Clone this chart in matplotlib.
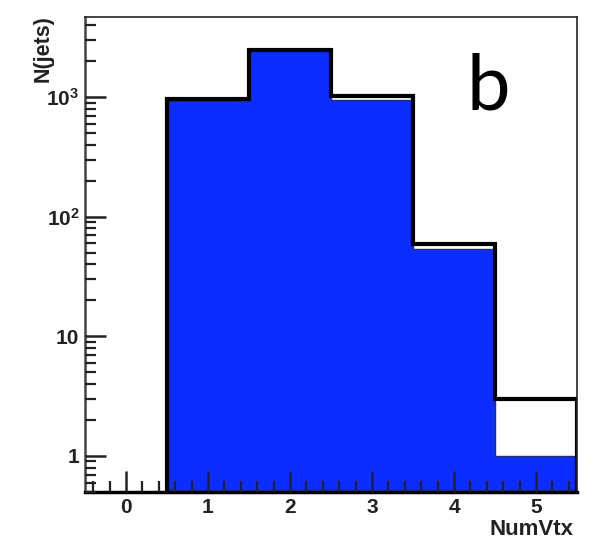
import matplotlib
matplotlib.use("Agg")
import matplotlib.pyplot as plt
import numpy as np
from matplotlib.ticker import FixedLocator, NullFormatter, FixedFormatter

plt.rcParams['font.family'] = ['Liberation Sans', 'DejaVu Sans']
plt.rcParams['mathtext.fontset'] = 'custom'
plt.rcParams['mathtext.rm'] = 'Liberation Sans:bold'
plt.rcParams['mathtext.bf'] = 'Liberation Sans:bold'

bin_edges = [-0.5, 0.5, 1.5, 2.5, 3.5, 4.5, 5.5]
blue_counts = [0, 920, 2430, 950, 54, 1.0]
black_counts = [0, 960, 2450, 1020, 59, 3.0]
x_ticks = [0, 1, 2, 3, 4, 5]
y_ticks = [1, 10, 100, 1000]
y_tick_labels = ['1', '10', r'$\mathbf{10^{2}}$', r'$\mathbf{10^{3}}$']

ymin, ymax = 0.5, 4670

fig = plt.figure(figsize=(6.01, 5.44), dpi=100)
ax = fig.add_axes([0.1414, 0.0956, 0.8186, 0.8732])
ax.set_yscale('log')
ax.set_xlim(-0.5, 5.5)
ax.set_ylim(ymin, ymax)

base = ymin * 0.5
blue_plot = [v if v > 0 else base for v in blue_counts]
black_plot = [v if v > 0 else base for v in black_counts]

ax.stairs(blue_plot, bin_edges, baseline=base, fill=True, color='#0b2dff', zorder=2)
ax.stairs(blue_plot, bin_edges, baseline=base, fill=False, color='#333333', lw=1.0, zorder=3)
ax.stairs(black_plot, bin_edges, baseline=base, fill=False, color='black', lw=3.0, zorder=4)

for s in ['top', 'right']:
    ax.spines[s].set_linewidth(1.2)
    ax.spines[s].set_color('#222222')
ax.spines['left'].set_linewidth(1.8)
ax.spines['left'].set_color('#444444')
ax.spines['bottom'].set_linewidth(2.5)
ax.spines['bottom'].set_color('black')
for s in ax.spines.values():
    s.set_zorder(6)
ax.xaxis.set_zorder(6)
ax.yaxis.set_zorder(6)

ax.xaxis.set_major_locator(FixedLocator(x_ticks))
ax.xaxis.set_minor_locator(FixedLocator(np.arange(-0.4, 5.5, 0.2)))
ax.yaxis.set_major_locator(FixedLocator(y_ticks))
minor_y = [m * 10.0**e for e in range(-1, 4) for m in range(2, 10)]
ax.yaxis.set_minor_locator(FixedLocator([v for v in minor_y if ymin <= v <= ymax]))
ax.yaxis.set_major_formatter(FixedFormatter(y_tick_labels))
ax.yaxis.set_minor_formatter(NullFormatter())

ax.tick_params(axis='both', which='major', direction='in', length=15, width=1.8,
               color='#222222', labelsize=15, top=False, right=False)
ax.tick_params(axis='both', which='minor', direction='in', length=8, width=1.6,
               color='#222222', top=False, right=False)
ax.tick_params(axis='x', which='major', pad=4)
ax.tick_params(axis='y', which='major', pad=4)
for lab in ax.get_xticklabels() + ax.get_yticklabels():
    lab.set_fontweight('bold')
    lab.set_color('#222222')

fig.text(0.072, 0.972, 'N(jets)', rotation=90, ha='center', va='top',
         fontsize=15.5, fontweight='bold', color='#222222')
fig.text(0.954, 0.026, 'NumVtx', ha='right', va='center',
         fontsize=16, fontweight='bold', color='#222222')
ax.text(0.82, 0.85, 'b', transform=ax.transAxes, ha='center', va='center',
        fontsize=56, family=['Lato', 'DejaVu Sans'], color='black')

fig.savefig('out.png', dpi=100)
